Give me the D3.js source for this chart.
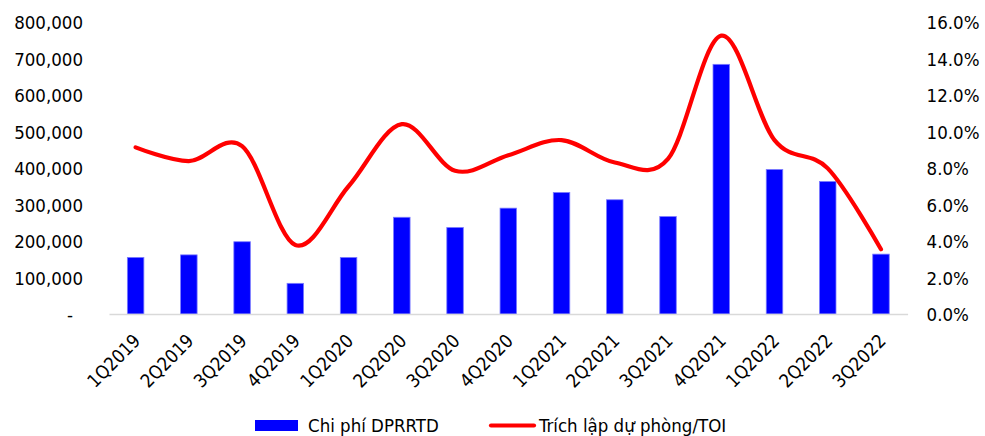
<!DOCTYPE html>
<html lang="vi">
<head>
    <meta charset="UTF-8">
    <title>Chi phí DPRRTD</title>
    <script src="https://d3js.org/d3.v7.min.js"></script>
    <style>
        body {
            margin: 0;
            background: #fff;
        }
        svg text {
            font-family: "DejaVu Sans Condensed", "DejaVu Sans", sans-serif;
            font-stretch: condensed;
            font-size: 18.5px;
            fill: #000;
        }
    </style>
</head>
<body>
    <div id="chart"></div>
    <script>
        // Data
        const quarters = ['1Q2019', '2Q2019', '3Q2019', '4Q2019', '1Q2020', '2Q2020', '3Q2020', '4Q2020',
                          '1Q2021', '2Q2021', '3Q2021', '4Q2021', '1Q2022', '2Q2022', '3Q2022'];
        const provisionCost = [155000, 162000, 198000, 84000, 155000, 265000, 237000, 290000,
                               333000, 313000, 267000, 684000, 396000, 363000, 164000];
        const provisionToi = [0.0913, 0.0838, 0.092, 0.0378, 0.070, 0.104, 0.0785, 0.087,
                              0.0953, 0.083, 0.085, 0.1525, 0.0953, 0.0798, 0.0355];
        const leftTicks = [0, 100000, 200000, 300000, 400000, 500000, 600000, 700000, 800000];
        const rightTicks = [0, 0.02, 0.04, 0.06, 0.08, 0.10, 0.12, 0.14, 0.16];
        const seriesNames = ['Chi phí DPRRTD', 'Trích lập dự phòng/TOI'];

        const width = 985, height = 436;
        const plot = { left: 109, right: 907.6, top: 22, bottom: 314 };

        const svg = d3.select('#chart')
            .append('svg')
            .attr('width', width)
            .attr('height', height);

        // Scales
        const x = d3.scaleBand()
            .domain(quarters)
            .range([plot.left, plot.right])
            .paddingInner(0.69)
            .paddingOuter(0.345);
        const xc = d => x(d) + x.bandwidth() / 2;
        const yLeft = d3.scaleLinear().domain([0, 800000]).range([plot.bottom, plot.top]);
        const yRight = d3.scaleLinear().domain([0, 0.16]).range([plot.bottom, plot.top]);

        // Left axis
        const fmtNum = d3.format(',');
        const leftAxis = svg.append('g')
            .attr('transform', `translate(${plot.left - 26}, 0)`)
            .call(d3.axisLeft(yLeft).tickValues(leftTicks).tickSize(0).tickPadding(0)
                .tickFormat(d => d === 0 ? '-' : fmtNum(d)));
        leftAxis.select('.domain').remove();
        leftAxis.selectAll('text')
            .attr('font-size', null).attr('font-family', null)
            .attr('dy', '0.36em')
            .attr('dx', d => d === 0 ? -10 : 0);

        // Right axis
        const rightAxis = svg.append('g')
            .attr('transform', `translate(${plot.right + 19}, 0)`)
            .call(d3.axisRight(yRight).tickValues(rightTicks).tickSize(0).tickPadding(0)
                .tickFormat(d3.format('.1%')));
        rightAxis.select('.domain').remove();
        rightAxis.selectAll('text')
            .attr('font-size', null).attr('font-family', null)
            .attr('dy', '0.36em');

        // Bars
        svg.append('g')
            .selectAll('rect')
            .data(quarters)
            .join('rect')
            .attr('x', d => x(d))
            .attr('y', (d, i) => yLeft(provisionCost[i]))
            .attr('width', x.bandwidth())
            .attr('height', (d, i) => plot.bottom - yLeft(provisionCost[i]))
            .attr('fill', '#0000ff')
            .attr('stroke', '#7b7bff')
            .attr('stroke-width', 0.8);

        // Bottom axis
        const bottomAxis = svg.append('g')
            .attr('transform', `translate(0, ${plot.bottom})`)
            .call(d3.axisBottom(x).tickSize(0).tickPadding(0));
        bottomAxis.select('.domain')
            .attr('stroke', '#d9d9d9')
            .attr('stroke-width', 1.6);
        bottomAxis.selectAll('text')
            .attr('font-size', null).attr('font-family', null)
            .attr('text-anchor', 'end')
            .attr('dy', null)
            .attr('transform', 'translate(6, 28) rotate(-45)');

        // Ratio line (smoothed)
        const line = d3.line()
            .x(d => xc(d))
            .y((d, i) => yRight(provisionToi[i]))
            .curve(d3.curveCardinal.tension(0));
        svg.append('path')
            .datum(quarters)
            .attr('fill', 'none')
            .attr('stroke', '#ff0000')
            .attr('stroke-width', 4.2)
            .attr('stroke-linecap', 'round')
            .attr('d', line);

        // Legend
        const legend = svg.append('g');
        legend.append('rect')
            .attr('x', 255).attr('y', 420)
            .attr('width', 43).attr('height', 11)
            .attr('fill', '#0000ff');
        legend.append('text')
            .attr('x', 308).attr('y', 425)
            .attr('dy', '0.36em')
            .text(seriesNames[0]);
        legend.append('line')
            .attr('x1', 491).attr('x2', 534)
            .attr('y1', 425.5).attr('y2', 425.5)
            .attr('stroke', '#ff0000')
            .attr('stroke-width', 4.2)
            .attr('stroke-linecap', 'round');
        legend.append('text')
            .attr('x', 539).attr('y', 425)
            .attr('dy', '0.36em')
            .text(seriesNames[1]);
    </script>
</body>
</html>
